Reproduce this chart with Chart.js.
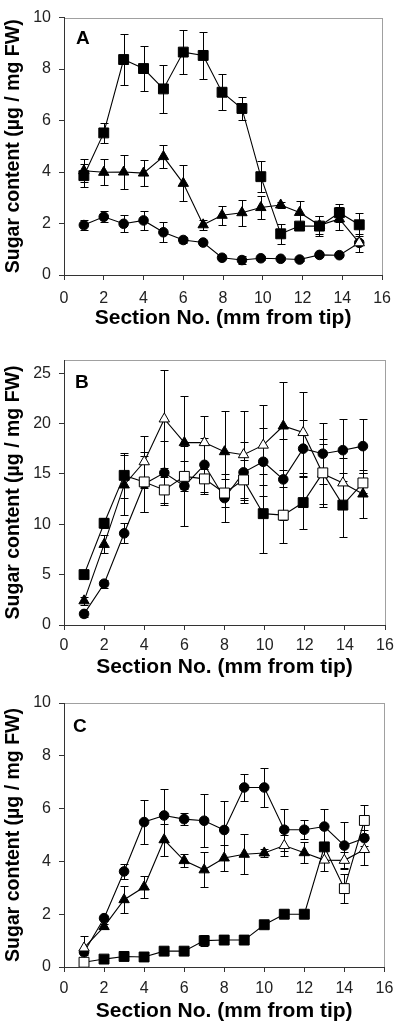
<!DOCTYPE html>
<html><head><meta charset="utf-8">
<script src="https://cdn.jsdelivr.net/npm/chart.js@4/dist/chart.umd.min.js"></script>
<style>
html,body{margin:0;padding:0;background:#fff;}
body{width:400px;height:1027px;position:relative;overflow:hidden;}
canvas{position:absolute;left:0;}
</style></head><body>
<canvas id="cA" width="400" height="340" style="top:0px"></canvas>
<canvas id="cB" width="400" height="345" style="top:340px"></canvas>
<canvas id="cC" width="400" height="342" style="top:685px"></canvas>
<script>
// ---------- data ----------
const xTickLabels = [0, 2, 4, 6, 8, 10, 12, 14, 16];
const yTicksA = [0, 2, 4, 6, 8, 10];
const yTicksB = [0, 5, 10, 15, 20, 25];
const yTicksC = [0, 2, 4, 6, 8, 10];

// Panel A
const aSection = [1, 2, 3, 4, 5, 6, 7, 7.95, 8.95, 9.9, 10.9, 11.85, 12.85, 13.85, 14.85];
const aSquare = [3.86, 5.52, 8.37, 8.02, 7.23, 8.66, 8.53, 7.1, 6.47, 3.82, 1.6, 1.9, 1.9, 2.42, 1.95];
const aSquareErr = [0.45, 0.38, 0.98, 0.87, 0.93, 0.85, 0.9, 0.7, 0.43, 0.6, 0.4, 0.15, 0.4, 0.35, 0.45];
const aSquareOpen = [];
const aTriangle = [4.05, 3.99, 4.0, 3.96, 4.6, 3.56, 1.95, 2.32, 2.42, 2.62, 2.72, 2.43, 1.93, 2.18, 1.25];
const aTriangleErr = [0.45, 0.5, 0.65, 0.5, 0.45, 0.7, 0.2, 0.38, 0.5, 0.43, 0.1, 0.45, 0.35, 0.45, 0.35];
const aTriangleOpen = [14];
const aCircle = [1.94, 2.26, 1.99, 2.12, 1.66, 1.36, 1.26, 0.67, 0.58, 0.65, 0.63, 0.6, 0.78, 0.77, 1.25];
const aCircleErr = [0.2, 0.22, 0.33, 0.38, 0.38, 0.1, 0.05, 0.05, 0.15, 0.08, 0.05, 0.05, 0.05, 0.05, 0.1];

// Panel B
const bSection = [1, 2, 3, 4, 5, 6, 7, 8, 8.95, 9.93, 10.93, 11.92, 12.9, 13.9, 14.9];
const bSquare = [5.0, 10.1, 14.85, 14.2, 13.4, 14.75, 14.5, 13.1, 14.4, 11.05, 10.9, 12.15, 15.1, 11.9, 14.1];
const bSquareErr = [0.3, 0.5, 2.2, 3.0, 1.3, 1.5, 1.5, 1.4, 2.0, 3.9, 2.8, 2.6, 3.4, 3.2, 1.0];
const bSquareOpen = [3, 4, 5, 6, 7, 8, 10, 12, 14];
const bTriangle = [2.4, 8.0, 13.9, 16.2, 20.45, 18.1, 18.1, 17.2, 16.9, 17.85, 19.75, 19.1, 15.0, 14.1, 13.0];
const bTriangleErr = [0.4, 0.9, 3.0, 2.6, 4.9, 4.6, 2.6, 4.0, 4.3, 4.0, 4.4, 4.0, 3.0, 2.5, 2.4];
const bTriangleOpen = [3, 4, 6, 8, 9, 11, 12, 13];
const bCircle = [1.1, 4.1, 9.1, 14.0, 15.1, 13.8, 15.9, 12.6, 15.15, 16.2, 14.45, 17.5, 17.0, 17.35, 17.75];
const bCircleErr = [0.3, 0.4, 1.0, 2.8, 3.2, 4.0, 2.7, 2.4, 3.0, 3.4, 4.0, 2.8, 3.0, 3.1, 2.7];

// Panel C
const cSection = [1, 2, 3, 4, 5, 6, 7, 8, 9, 10, 11, 12, 13, 14, 15];
const cSquare = [0.18, 0.3, 0.4, 0.38, 0.6, 0.6, 1.0, 1.02, 1.02, 1.6, 2.0, 2.0, 4.55, 2.97, 5.55];
const cSquareErr = [0.05, 0.05, 0.05, 0.05, 0.05, 0.05, 0.2, 0.05, 0.05, 0.08, 0.1, 0.1, 0.1, 0.55, 0.57];
const cSquareOpen = [0, 13, 14];
const cTriangle = [0.72, 1.53, 2.55, 3.03, 4.82, 4.03, 3.68, 4.13, 4.27, 4.32, 4.6, 4.33, 4.05, 4.04, 4.45];
const cTriangleErr = [0.45, 0.1, 0.5, 0.4, 0.6, 0.25, 0.66, 0.5, 0.75, 0.15, 0.4, 0.4, 0.4, 0.3, 0.57];
const cTriangleOpen = [0, 10, 12, 13, 14];
const cCircle = [0.56, 1.85, 3.62, 5.49, 5.74, 5.6, 5.54, 5.19, 6.8, 6.8, 5.2, 5.2, 5.32, 4.6, 4.88];
const cCircleErr = [0.1, 0.1, 0.3, 0.83, 1.0, 0.22, 1.0, 1.1, 0.5, 0.73, 0.8, 0.37, 0.68, 0.88, 0.3];

// ---------- rendering ----------
const FONT = "'Liberation Sans', Arial, Helvetica, sans-serif";
Chart.defaults.font.family = FONT;

const errorBarPlugin = {
  id: 'errorBars',
  beforeDatasetsDraw(chart) {
    const ctx = chart.ctx, xs = chart.scales.x, ys = chart.scales.y;
    ctx.save();
    ctx.strokeStyle = '#000';
    ctx.lineWidth = 1;
    chart.data.datasets.forEach(ds => {
      if (!ds.errorBars) return;
      ds.data.forEach((p, i) => {
        const e = ds.errorBars[i];
        if (!e) return;
        const px = Math.round(xs.getPixelForValue(p.x)) + 0.5;
        const y1 = Math.round(ys.getPixelForValue(p.y + e)) + 0.5;
        const y2 = Math.round(ys.getPixelForValue(p.y - e)) + 0.5;
        ctx.beginPath();
        ctx.moveTo(px, y1); ctx.lineTo(px, y2);
        ctx.moveTo(px - 4, y1); ctx.lineTo(px + 4, y1);
        ctx.moveTo(px - 4, y2); ctx.lineTo(px + 4, y2);
        ctx.stroke();
      });
    });
    ctx.restore();
  }
};

const framePlugin = {
  id: 'frame',
  beforeDraw(chart) {
    const a = chart.chartArea, ctx = chart.ctx;
    ctx.save();
    ctx.strokeStyle = '#a0a0a0';
    ctx.lineWidth = 1;
    ctx.strokeRect(Math.round(a.left) + 0.5, Math.round(a.top) + 0.5,
      Math.round(a.right - a.left), Math.round(a.bottom - a.top));
    ctx.restore();
  },
  afterDraw(chart, args, opts) {
    const a = chart.chartArea, ctx = chart.ctx;
    ctx.save();
    ctx.fillStyle = '#000';
    ctx.font = 'bold 19px ' + FONT;
    ctx.textBaseline = 'alphabetic';
    ctx.textAlign = 'left';
    ctx.fillText(opts.letter, a.left + opts.dx, a.top + opts.dy);
    ctx.restore();
  }
};

function series(xs, ys, errs, openIdx, style, radius) {
  return {
    data: xs.map((x, i) => ({x: x, y: ys[i]})),
    errorBars: errs,
    showLine: true,
    borderColor: '#000',
    borderWidth: 1.1,
    tension: 0,
    pointStyle: style,
    pointRadius: radius,
    pointHoverRadius: radius,
    pointBorderColor: '#000',
    pointBorderWidth: 1,
    pointBackgroundColor: ys.map((_, i) => openIdx.includes(i) ? '#fff' : '#000')
  };
}

function makePanel(id, cfg) {
  new Chart(document.getElementById(id), {
    type: 'scatter',
    data: {
      datasets: [
        series(cfg.x, cfg.sq, cfg.sqE, cfg.sqO, 'rect', 7),
        series(cfg.x, cfg.tr, cfg.trE, cfg.trO, 'triangle', 6),
        series(cfg.x, cfg.ci, cfg.ciE, [], 'circle', 4.8)
      ]
    },
    options: {
      responsive: false,
      animation: false,
      events: [],
      layout: {padding: {top: cfg.top, right: 15, left: 0, bottom: 0}},
      plugins: {
        legend: {display: false},
        tooltip: {enabled: false},
        frame: {letter: cfg.letter, dx: cfg.ldx, dy: cfg.ldy}
      },
      scales: {
        x: {
          type: 'linear', min: 0, max: 16,
          afterBuildTicks: s => { s.ticks = xTickLabels.map(v => ({value: v})); },
          afterFit: s => { s.height = cfg.xh; },
          grid: {drawOnChartArea: false, drawTicks: true, tickLength: 5, color: '#333'},
          border: {display: true, color: '#333', width: 1},
          ticks: {font: {size: 16}, color: '#222', padding: cfg.tickPad, maxRotation: 0, autoSkip: false},
          title: {display: true, text: 'Section No. (mm from tip)', color: '#000',
                  font: {size: 21, weight: 'bold'}, padding: {top: 0, bottom: cfg.titlePad}}
        },
        y: {
          type: 'linear', min: 0, max: cfg.ymax,
          afterBuildTicks: s => { s.ticks = cfg.yTicks.map(v => ({value: v})); },
          afterFit: s => { s.width = 64; },
          grid: {drawOnChartArea: false, drawTicks: true, tickLength: 5, color: '#333'},
          border: {display: true, color: '#333', width: 1},
          ticks: {font: {size: 16}, color: '#222', padding: 8},
          title: {display: true, text: 'Sugar content (µg / mg FW)', color: '#000',
                  font: {size: 19.5, weight: 'bold'}, padding: {top: 2, bottom: 0}}
        }
      }
    },
    plugins: [framePlugin, errorBarPlugin]
  });
}

makePanel('cA', {letter: 'A', ldx: 12, ldy: 26, top: 11, xh: 65, tickPad: 9, titlePad: 8.7, ymax: 10, yTicks: yTicksA,
  x: aSection, sq: aSquare, sqE: aSquareErr, sqO: aSquareOpen, tr: aTriangle, trE: aTriangleErr, trO: aTriangleOpen,
  ci: aCircle, ciE: aCircleErr});
makePanel('cB', {letter: 'B', ldx: 11, ldy: 28, top: 20, xh: 60, tickPad: 5.5, titlePad: 5.1, ymax: 26.3, yTicks: yTicksB,
  x: bSection, sq: bSquare, sqE: bSquareErr, sqO: bSquareOpen, tr: bTriangle, trE: bTriangleErr, trO: bTriangleOpen,
  ci: bCircle, ciE: bCircleErr});
makePanel('cC', {letter: 'C', ldx: 9, ldy: 29, top: 18, xh: 60, tickPad: 6.7, titlePad: 2.7, ymax: 10, yTicks: yTicksC,
  x: cSection, sq: cSquare, sqE: cSquareErr, sqO: cSquareOpen, tr: cTriangle, trE: cTriangleErr, trO: cTriangleOpen,
  ci: cCircle, ciE: cCircleErr});
</script>
</body></html>
